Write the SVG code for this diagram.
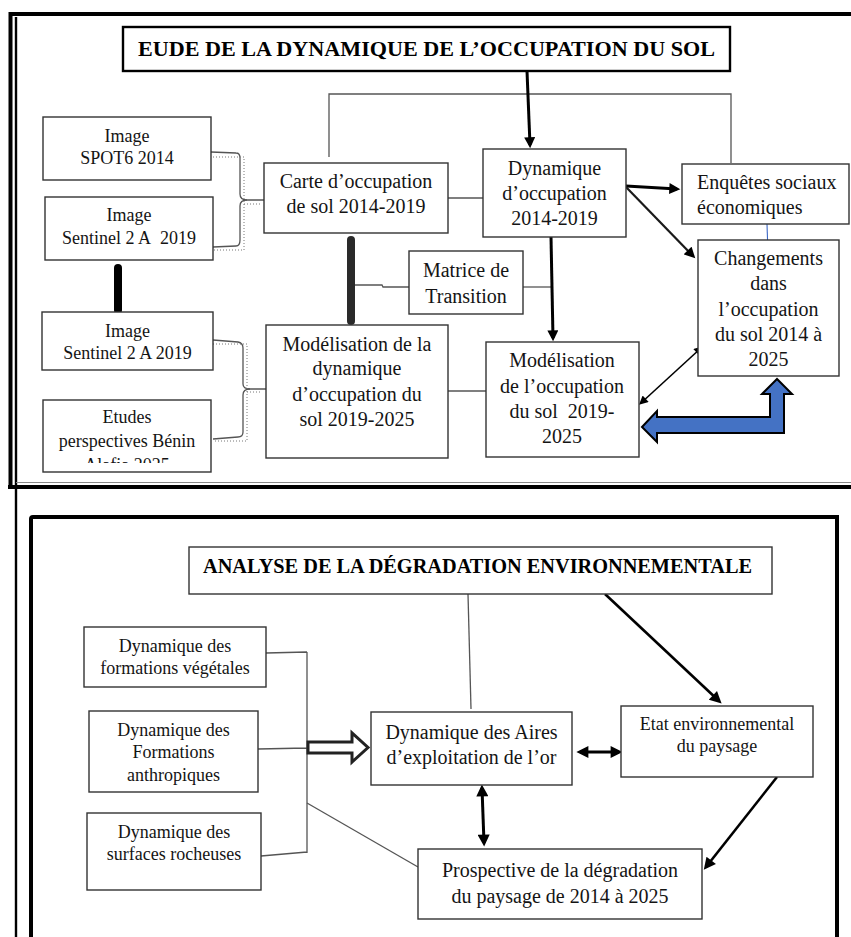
<svg xmlns="http://www.w3.org/2000/svg" width="851" height="937" viewBox="0 0 851 937">
<style>
  text { font-family: 'Liberation Serif', 'Times New Roman', serif; fill: #141414; }
  .t20 { font-size: 20px; text-anchor: middle; }
  .t18 { font-size: 18px; text-anchor: middle; }
  .tl { font-size: 20px; text-anchor: start; }
  .title { font-size: 22px; font-weight: bold; text-anchor: middle; fill: #000; }
  .title2 { font-size: 20.2px; font-weight: bold; text-anchor: middle; fill: #000; }
  .box { fill: #fff; stroke: #333; stroke-width: 1.4; }
  .tbox { fill: #fff; stroke: #000; stroke-width: 2.4; }
  .thin { fill: none; stroke: #555; stroke-width: 1.3; }
  .dot { fill: none; stroke: #777; stroke-width: 1; stroke-dasharray: 1 2; }
  .arr { fill: none; stroke: #000; stroke-width: 3; marker-end: url(#ah); }
  .arr2 { fill: none; stroke: #1a1a1a; stroke-width: 2.2; marker-end: url(#ah); }
  .darr { fill: none; stroke: #000; stroke-width: 1.6; marker-end: url(#ahs); marker-start: url(#ahs); }
  .dbl { fill: none; stroke: #000; stroke-width: 3; marker-end: url(#ahb); marker-start: url(#ahb); }
  .arrb { fill: none; stroke: #000; stroke-width: 2.6; marker-end: url(#ahb); }
  .frame { fill: none; stroke: #000; }
</style>
<defs>
  <marker id="ah" viewBox="0 0 10 10" refX="7" refY="5" markerWidth="12" markerHeight="11" markerUnits="userSpaceOnUse" orient="auto-start-reverse">
    <path d="M0,0 L10,5 L0,10 z" fill="#000"/>
  </marker>
  <marker id="ahs" viewBox="0 0 10 10" refX="7" refY="5" markerWidth="11" markerHeight="9" markerUnits="userSpaceOnUse" orient="auto-start-reverse">
    <path d="M0,0 L10,5 L0,10 z" fill="#000"/>
  </marker>
  <marker id="ahb" viewBox="0 0 10 10" refX="7" refY="5" markerWidth="14" markerHeight="12" markerUnits="userSpaceOnUse" orient="auto-start-reverse">
    <path d="M0,0 L10,5 L0,10 z" fill="#000"/>
  </marker>
  <clipPath id="clipEtudes">
    <rect x="43" y="400" width="168" height="63"/>
  </clipPath>
</defs>

<rect x="0" y="0" width="851" height="937" fill="#fff"/>

<!-- Frames -->
<g id="frames">
  <path class="frame" d="M10.5,488 V14 H851" stroke-width="4"/>
  <path class="frame" d="M16,17 V937" stroke-width="2.4"/>
  <path class="frame" d="M8,487 H851" stroke-width="4"/>
  <path d="M16,482.5 H851" stroke="#888" stroke-width="1" fill="none"/>
  <path class="frame" d="M31,940 V519 Q31,517 33,517 H837 V940" stroke-width="4"/>
</g>

<!-- Connectors -->
<g id="connectors">
  <!-- top section thin lines -->
  <path class="thin" d="M329,157 V94 H731 V163"/>
  <path class="thin" d="M448,198 H483"/>
  <path class="thin" d="M448,391 H486"/>
  <path class="thin" d="M353,285 H382 L383,287 H409"/>
  <path class="thin" d="M523,287 H552"/>
  <path d="M767,224 L768,254" stroke="#3a66c4" stroke-width="1.1" fill="none"/>

  <!-- braces upper -->
  <path class="thin" d="M211,152 L236,153 Q240,153 240,158 V194 Q240,200 247,200 H264"/>
  <path class="thin" d="M213,247 L236,246 Q240,246 240,240 V206 Q240,200 247,200"/>
  <path class="dot" d="M213,157 H244 V250 H213 M244,204 H262"/>
  <!-- braces lower -->
  <path class="thin" d="M213,340 L238,342 Q243,343 243,348 V384 Q243,389 250,389 H266"/>
  <path class="thin" d="M213,439 L238,437 Q243,437 243,432 V395 Q243,389 250,389"/>
  <path class="dot" d="M213,344 H247 V441 H213 M247,392 H262"/>

  <!-- thick bars -->
  <path d="M118,268 V310" stroke="#000" stroke-width="8" stroke-linecap="round" fill="none"/>
  <path d="M351,240 V321" stroke="#2a2a2a" stroke-width="8" stroke-linecap="round" fill="none"/>

  <!-- arrows top -->
  <path class="arr" d="M527,71 L530,145"/>
  <path class="arr" d="M551,237 L553,338"/>
  <path class="arr" d="M626,186 L677,189"/>
  <path class="arr2" d="M626,187 L693,256"/>
  <path class="darr" d="M641,403 L701,348"/>

  <!-- blue block arrow -->
  <polygon points="642,427 657,411 657,417 770,417 770,394 762,394 777,379 792,394 784,394 784,433 657,433 657,442" fill="#4472c4" stroke="#000" stroke-width="2" stroke-linejoin="miter"/>

  <!-- bottom section -->
  <path class="thin" d="M266,653 L307,652 M258,749 L307,748 M261,856 L307,852 M307,652 V853"/>
  <path class="thin" d="M307,803 L418,867"/>
  <path class="thin" d="M468,594 L471,709"/>
  <polygon points="308,742 352,742 352,733 368,747.5 352,762 352,753 308,753" fill="#fff" stroke="#222" stroke-width="3" stroke-linejoin="miter"/>
  <path class="arrb" d="M605,594 L719,701"/>
  <path class="dbl" d="M580,752 L619,752"/>
  <path class="dbl" d="M482,788 L484,843"/>
  <path class="arrb" d="M777,777 L706,867"/>
</g>

<!-- Top section nodes -->
<g id="title-top">
  <rect class="tbox" x="123" y="27" width="607" height="44"/>
  <text class="title" x="426.5" y="56" textLength="577" lengthAdjust="spacingAndGlyphs">EUDE DE LA DYNAMIQUE DE L’OCCUPATION DU SOL</text>
</g>
<g id="image-spot6">
  <rect class="box" x="43" y="117" width="168" height="63"/>
  <text class="t18" x="127" y="142">Image</text>
  <text class="t18" x="127" y="164">SPOT6 2014</text>
</g>
<g id="image-sentinel-1">
  <rect class="box" x="45" y="197" width="168" height="63"/>
  <text class="t18" x="129" y="221">Image</text>
  <text class="t18" x="129" y="244">Sentinel 2 A&#160; 2019</text>
</g>
<g id="carte">
  <rect class="box" x="264" y="163" width="184" height="70"/>
  <text class="t20" x="356" y="188">Carte d’occupation</text>
  <text class="t20" x="356" y="213">de sol 2014-2019</text>
</g>
<g id="dynamique">
  <rect class="box" x="483" y="149" width="143" height="88"/>
  <text class="t20" x="554.5" y="175">Dynamique</text>
  <text class="t20" x="554.5" y="200">d’occupation</text>
  <text class="t20" x="554.5" y="225">2014-2019</text>
</g>
<g id="enquetes">
  <rect class="box" x="682" y="164" width="167" height="60"/>
  <text class="tl" x="697" y="189">Enquêtes sociaux</text>
  <text class="tl" x="697" y="214">économiques</text>
</g>
<g id="changements">
  <rect class="box" x="698" y="240" width="141" height="136"/>
  <text class="t20" x="768.5" y="265">Changements</text>
  <text class="t20" x="768.5" y="290">dans</text>
  <text class="t20" x="768.5" y="316">l’occupation</text>
  <text class="t20" x="768.5" y="341">du sol 2014 à</text>
  <text class="t20" x="768.5" y="366">2025</text>
</g>
<g id="matrice">
  <rect class="box" x="409" y="251" width="114" height="63"/>
  <text class="t20" x="466" y="277">Matrice de</text>
  <text class="t20" x="466" y="303">Transition</text>
</g>
<g id="image-sentinel-2">
  <rect class="box" x="42" y="312" width="171" height="58"/>
  <text class="t18" x="127.5" y="337">Image</text>
  <text class="t18" x="127.5" y="359">Sentinel 2 A 2019</text>
</g>
<g id="etudes">
  <rect class="box" x="43" y="400" width="168" height="72"/>
  <text class="t18" x="127" y="423">Etudes</text>
  <text class="t18" x="127" y="447">perspectives Bénin</text>
  <text class="t18" x="127" y="471" clip-path="url(#clipEtudes)">Alafia 2025</text>
</g>
<g id="modelisation-dynamique">
  <rect class="box" x="266" y="325" width="182" height="133"/>
  <text class="t20" x="357" y="351">Modélisation de la</text>
  <text class="t20" x="357" y="375">dynamique</text>
  <text class="t20" x="357" y="401">d’occupation du</text>
  <text class="t20" x="357" y="426">sol 2019-2025</text>
</g>
<g id="modelisation-occupation">
  <rect class="box" x="486" y="342" width="153" height="115"/>
  <text class="t20" x="562" y="367">Modélisation</text>
  <text class="t20" x="562" y="393">de l’occupation</text>
  <text class="t20" x="562" y="418">du sol&#160; 2019-</text>
  <text class="t20" x="562" y="443">2025</text>
</g>

<!-- Bottom section nodes -->
<g id="title-bottom">
  <rect class="box" x="189" y="547" width="583" height="47"/>
  <text class="title2" x="477.5" y="573" textLength="549" lengthAdjust="spacingAndGlyphs">ANALYSE DE LA DÉGRADATION ENVIRONNEMENTALE</text>
</g>
<g id="formations-vegetales">
  <rect class="box" x="84" y="627" width="182" height="60"/>
  <text class="t18" x="175" y="652">Dynamique des</text>
  <text class="t18" x="175" y="674">formations végétales</text>
</g>
<g id="formations-anthropiques">
  <rect class="box" x="89" y="711" width="169" height="81"/>
  <text class="t18" x="173.5" y="736">Dynamique des</text>
  <text class="t18" x="173.5" y="758">Formations</text>
  <text class="t18" x="173.5" y="781">anthropiques</text>
</g>
<g id="surfaces-rocheuses">
  <rect class="box" x="87" y="813" width="174" height="77"/>
  <text class="t18" x="174" y="838">Dynamique des</text>
  <text class="t18" x="174" y="860">surfaces rocheuses</text>
</g>
<g id="aires-or">
  <rect class="box" x="371" y="712" width="201" height="73"/>
  <text class="t20" x="471.5" y="739">Dynamique des Aires</text>
  <text class="t20" x="471.5" y="764">d’exploitation de l’or</text>
</g>
<g id="etat-environnemental">
  <rect class="box" x="621" y="706" width="192" height="71"/>
  <text class="t18" x="717" y="730">Etat environnemental</text>
  <text class="t18" x="717" y="752">du paysage</text>
</g>
<g id="prospective">
  <rect class="box" x="418" y="849" width="284" height="70"/>
  <text class="t20" x="560" y="877">Prospective de la dégradation</text>
  <text class="t20" x="560" y="903">du paysage de 2014 à 2025</text>
</g>
</svg>
